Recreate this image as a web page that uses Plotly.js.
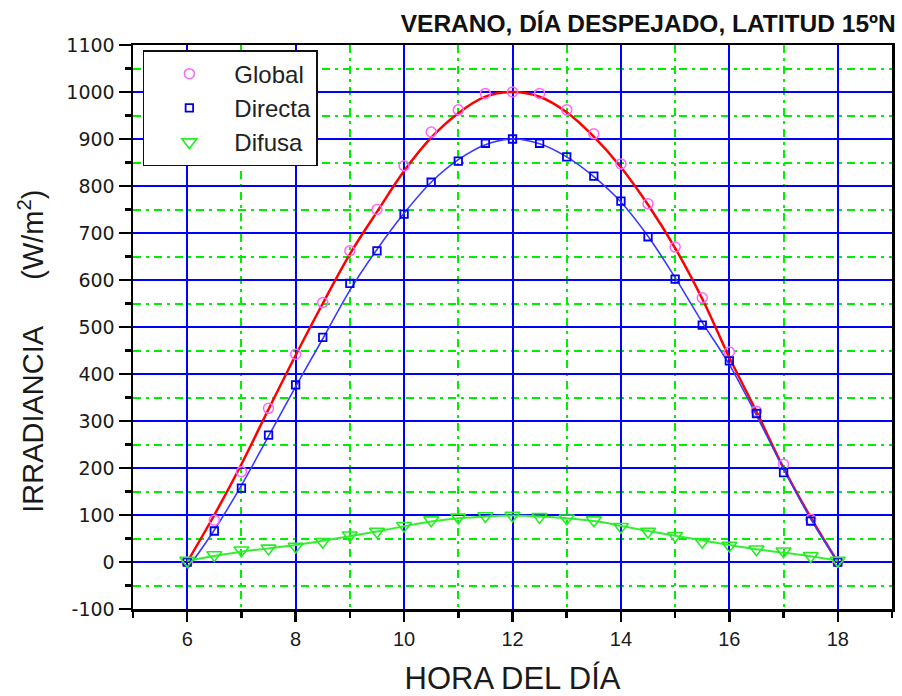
<!DOCTYPE html>
<html>
<head>
<meta charset="utf-8">
<script src="https://cdn.plot.ly/plotly-3.0.1.min.js"></script>
<style>
  html, body { margin: 0; padding: 0; background: #fff; }
  #chart { width: 902px; height: 696px; }
</style>
</head>
<body>
<div id="chart"></div>
<script>
// Hours of the day (every half hour)
const hours = [6, 6.5, 7, 7.5, 8, 8.5, 9, 9.5, 10, 10.5, 11, 11.5, 12, 12.5, 13, 13.5, 14, 14.5, 15, 15.5, 16, 16.5, 17, 17.5, 18];

// Measured points (W/m2)
const globalPts  = [0, 89, 192, 327, 442, 552, 662, 750, 843, 915, 962, 997, 1000, 997, 962, 911, 847, 762, 670, 562, 447, 321, 208, 91, 0];
const directaPts = [0, 66, 157, 270, 377, 478, 593, 662, 740, 808, 853, 891, 900, 891, 862, 821, 768, 692, 602, 504, 428, 316, 190, 87, 0];
const difusaPts  = [3, 15, 25, 29, 33, 43, 57, 65, 77, 89, 95, 98, 99, 96, 93, 89, 75, 65, 56, 43, 35, 27, 23, 13, 3];

// Fitted curves
const globalFit  = [0, 100, 208, 325, 440, 550, 655, 745, 832, 903, 955, 990, 1000, 990, 957, 905, 840, 760, 668, 560, 435, 320, 200, 95, 0];
const directaFit = [-15, 68, 163, 268, 373, 475, 578, 665, 742, 808, 856, 888, 900, 890, 862, 820, 766, 693, 605, 510, 420, 312, 198, 92, 0];
const difusaFit  = [3, 13, 22, 29, 36, 45, 55, 65, 76, 86, 93, 97, 99, 97, 93, 87, 77, 66, 56, 46, 36, 27, 20, 12, 3];

// Tick labels
const xTicks = [6, 8, 10, 12, 14, 16, 18];
const yTicks = [-100, 0, 100, 200, 300, 400, 500, 600, 700, 800, 900, 1000, 1100];

const names = ['Global', 'Directa', 'Difusa'];

const traces = [
  { x: hours, y: globalFit, mode: 'lines', line: { color: '#ff0000', width: 2.5, shape: 'spline' }, showlegend: false, hoverinfo: 'skip' },
  { x: hours, y: directaFit, mode: 'lines', line: { color: '#3a3aff', width: 1.6, shape: 'spline' }, showlegend: false, hoverinfo: 'skip' },
  { x: hours, y: difusaFit, mode: 'lines', line: { color: '#33ee33', width: 2, shape: 'spline' }, showlegend: false, hoverinfo: 'skip' },
  { x: hours, y: globalPts, name: names[0], mode: 'markers',
    marker: { symbol: 'circle-open', size: 10, color: '#ff66ff', line: { width: 1.5, color: '#ff66ff' } } },
  { x: hours, y: directaPts, name: names[1], mode: 'markers',
    marker: { symbol: 'square-open', size: 7.5, color: '#0000ee', line: { width: 1.8, color: '#0000ee' } } },
  { x: hours, y: difusaPts, name: names[2], mode: 'markers',
    marker: { symbol: 'triangle-down-open', size: 13, color: '#22ee22', line: { width: 1.6, color: '#22ee22' } } }
];

const NB = '\u00A0';

const layout = {
  width: 902, height: 696,
  margin: { l: 133, r: 10, t: 45, b: 87 },
  paper_bgcolor: '#ffffff',
  plot_bgcolor: '#ffffff',
  font: { family: 'Liberation Sans, Arial, sans-serif', color: '#1a1a1a' },
  title: {
    text: '<b>VERANO, DÍA DESPEJADO, LATITUD 15ºN</b>',
    font: { family: 'Liberation Sans Narrow, Arial Narrow, Liberation Sans, Arial, sans-serif', size: 24.5, color: '#111' },
    xref: 'container', yref: 'container',
    x: 0.993, xanchor: 'right',
    y: 0.966, yanchor: 'middle'
  },
  showlegend: true,
  legend: {
    x: 0.013, y: 0.991, xanchor: 'left', yanchor: 'top',
    bgcolor: '#ffffff', bordercolor: '#111', borderwidth: 1.5,
    font: { size: 24, color: '#222', family: 'Liberation Sans, Arial, sans-serif' },
    itemwidth: 80,
    tracegroupgap: 0
  },
  xaxis: {
    range: [5, 19],
    tickvals: xTicks,
    ticktext: xTicks.map(String),
    ticks: 'outside', ticklen: 10, tickwidth: 2.5, tickcolor: '#000',
    showline: true, linecolor: '#000', linewidth: 2.5, mirror: true,
    showgrid: true, gridcolor: '#0000ff', gridwidth: 2,
    zeroline: false,
    tickfont: { size: 20, color: '#1a1a1a' },
    minor: { dtick: 1, tick0: 5, showgrid: true, gridcolor: '#00ee00', griddash: '8px,5px,3px,5px', gridwidth: 2,
             ticks: 'outside', ticklen: 6, tickwidth: 2.5, tickcolor: '#000' },
    title: { text: 'HORA DEL DÍA', font: { size: 31, color: '#1a1a1a' }, standoff: 20 }
  },
  yaxis: {
    range: [-100, 1100],
    tickvals: yTicks,
    ticktext: yTicks.map(String),
    ticks: 'outside', ticklen: 12, tickwidth: 2.5, tickcolor: '#000',
    showline: true, linecolor: '#000', linewidth: 2.5, mirror: true,
    showgrid: true, gridcolor: '#0000ff', gridwidth: 2,
    zeroline: false,
    tickfont: { size: 19, color: '#1a1a1a', family: 'DejaVu Sans, Liberation Sans, Arial, sans-serif' },
    minor: { dtick: 50, tick0: -50, showgrid: true, gridcolor: '#00ee00', griddash: '8px,5px,3px,5px', gridwidth: 2,
             ticks: 'outside', ticklen: 6, tickwidth: 2.5, tickcolor: '#000' },
    title: {
      text: 'IRRADIANCIA' + NB.repeat(5) + '\u2009(W/m<sup>2</sup>)' + NB.repeat(4) + '<span style="color:rgba(0,0,0,0)">..</span>',
      font: { size: 29, color: '#1a1a1a' }, standoff: 14
    }
  }
};

Plotly.newPlot('chart', traces, layout, { displayModeBar: false, staticPlot: true });
</script>
</body>
</html>
